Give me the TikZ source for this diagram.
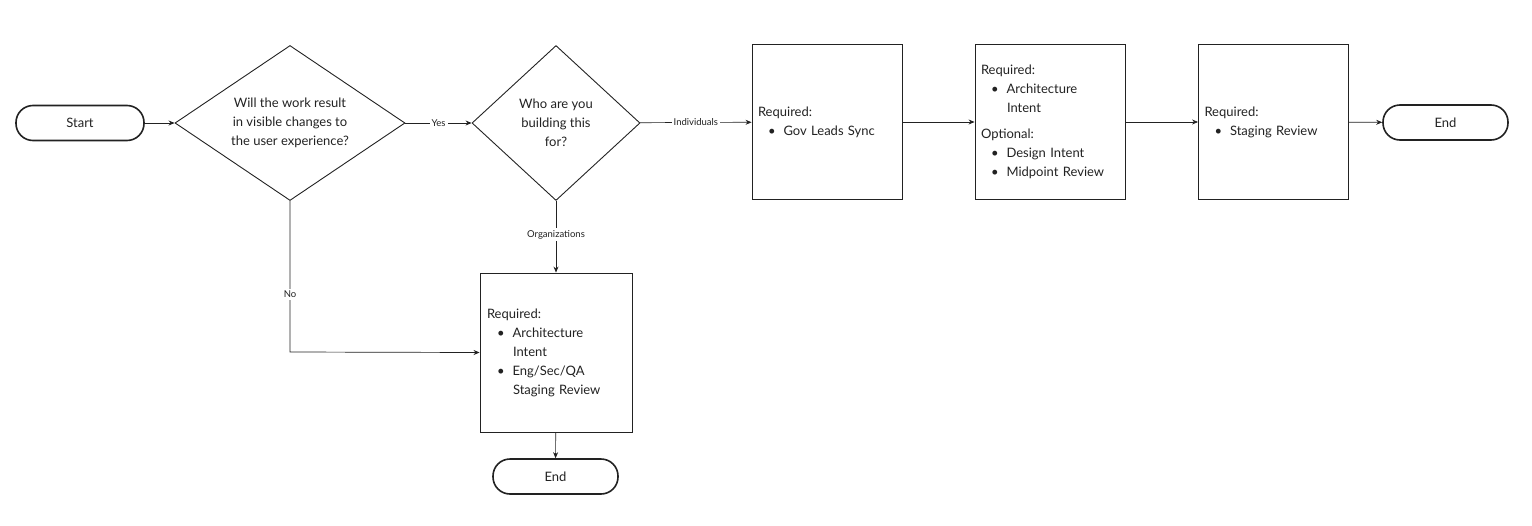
\documentclass[tikz,border=0pt]{standalone}
\usepackage{fontspec}
\setmainfont{Lato}
\usetikzlibrary{shapes.geometric,arrows.meta}
\definecolor{ink}{HTML}{222222}
\newcommand{\bul}[1]{\hspace*{10pt}\textbullet\hspace{8pt}#1}
\newcommand{\cont}[1]{\hspace*{26pt}#1}
\begin{document}
\begin{tikzpicture}[x=1pt,y=-1pt,
  every node/.style={font=\fontsize{13}{19}\selectfont, text=ink},
  term/.style={draw=ink, line width=1.6pt, rounded corners=17pt, minimum width=128pt, minimum height=35pt},
  dia/.style={draw=ink, line width=0.9pt, diamond, minimum width=230pt, minimum height=155pt, inner sep=0pt},
  box/.style={draw=ink, line width=0.9pt, minimum width=150pt, minimum height=155pt, text width=138pt, align=left, inner sep=6pt},
  lab/.style={fill=white, font=\fontsize{9.5}{11}\selectfont, inner sep=2pt},
  arr/.style={draw=ink, line width=0.7pt, -{Stealth[length=6pt,width=5pt]}}]
\useasboundingbox (0,0) rectangle (1532,525);
\node[term] (start) at (80,123) {Start};
\node[dia] (d1) at (290,123) {};
\node[align=center] at (290,123) {Will the work result\\in visible changes to\\the user experience?};
\node[dia, minimum width=168pt] (d2) at (556,123) {};
\node[align=center] at (556,123) {Who are you\\building this\\for?};
\node[box] (gov) at (827,122) {Required:\\\bul{Gov Leads Sync}};
\node[box] (arch) at (1050,122) {Required:\\\bul{Architecture}\\\cont{Intent}\\[7pt]Optional:\\\bul{Design Intent}\\\bul{Midpoint Review}};
\node[box, minimum width=149pt] (stg) at (1273.5,122) {Required:\\\bul{Staging Review}};
\node[term, minimum width=125pt] (end1) at (1445.5,122.5) {End};
\node[box, minimum width=152pt, minimum height=159pt] (org) at (556,352.5) {Required:\\\bul{Architecture}\\\cont{Intent}\\\bul{Eng/Sec/QA}\\\cont{Staging Review}};
\node[term, minimum width=125pt] (end2) at (555.5,476.5) {End};
\draw[arr] (start) -- (d1);
\draw[arr] (d1) -- node[lab]{Yes} (d2);
\draw[arr] (d2) -- node[lab]{Individuals} (gov);
\draw[arr] (gov) -- (arch);
\draw[arr] (arch) -- (stg);
\draw[arr] (stg) -- (end1);
\draw[arr] (d2) -- node[lab, pos=0.47]{Organizations} (org);
\draw[arr] (d1.south) -- node[lab, pos=0.62]{No} (290,352) -- (org.west);
\draw[arr] (org) -- (end2);
\end{tikzpicture}
\end{document}
